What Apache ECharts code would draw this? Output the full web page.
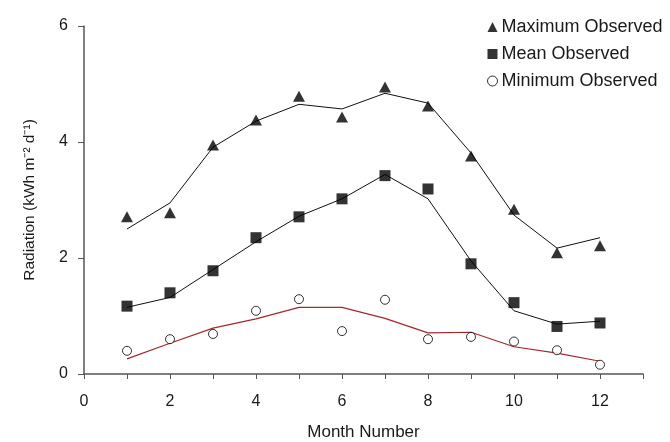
<!DOCTYPE html>
<html><head><meta charset="utf-8">
<script src="https://cdn.jsdelivr.net/npm/echarts@6/dist/echarts.min.js"></script>
<style>html,body{margin:0;padding:0;background:#fff}#c{width:670px;height:442px}</style>
</head><body><div id="c"></div>
<script>
const months = [1,2,3,4,5,6,7,8,9,10,11,12];
const maxObserved = [2.71,2.78,3.95,4.38,4.79,4.43,4.95,4.62,3.76,2.84,2.09,2.21];
const maxModel    = [2.50,2.95,3.91,4.36,4.65,4.57,4.84,4.67,3.81,2.74,2.17,2.35];
const meanObserved= [1.17,1.40,1.78,2.35,2.71,3.02,3.42,3.19,1.90,1.23,0.82,0.88];
const meanModel   = [1.15,1.32,1.80,2.28,2.72,3.02,3.44,3.02,1.95,1.09,0.86,0.91];
const minObserved = [0.40,0.60,0.69,1.09,1.29,0.74,1.28,0.60,0.64,0.56,0.41,0.16];
const minModel    = [0.26,0.53,0.79,0.95,1.15,1.15,0.96,0.71,0.72,0.47,0.36,0.22];
const xTicks = [0,2,4,6,8,10,12];
const yTicks = [0,2,4,6];

const pair = (ys) => months.map((m,i)=>[m, ys[i]]);
const font = 'Liberation Sans, Arial, sans-serif';
const txt = '#1a1a1a';
const chart = echarts.init(document.getElementById('c'));
chart.setOption({
  animation:false,
  backgroundColor:'#fff',
  grid:{left:84,right:27,top:26,bottom:68,containLabel:false,outerBoundsMode:'none'},
  legend:{
    orient:'vertical', left:482, top:13, itemGap:9, itemWidth:10, itemHeight:10,
    textStyle:{fontFamily:font,fontSize:18,color:txt,padding:[0,0,0,-1]},
    data:[
      {name:'Maximum Observed',icon:'triangle'},
      {name:'Mean Observed',icon:'rect'},
      {name:'Minimum Observed',icon:'circle',itemStyle:{color:'#fff',borderColor:'#000',borderWidth:1}}
    ]
  },
  xAxis:{
    type:'value', min:0, max:13, interval:1,
    name:'Month Number', nameLocation:'middle', nameGap:50,
    nameTextStyle:{fontFamily:font,fontSize:17,color:txt},
    axisLine:{onZero:false,lineStyle:{color:'#555',width:1.5}},
    axisTick:{show:true,length:5,inside:false,lineStyle:{color:'#555'}},
    axisLabel:{fontFamily:font,fontSize:16,color:txt,margin:20,
      formatter:(v)=> xTicks.indexOf(v)>=0 ? String(v) : ''},
    splitLine:{show:false}
  },
  yAxis:{
    type:'value', min:0, max:6, interval:2,
    name:'Radiation (kWh m\u207B\u00B2 d\u207B\u00B9)', nameLocation:'middle', nameGap:46,
    nameTextStyle:{fontFamily:font,fontSize:15.5,color:txt},
    axisLine:{show:true,lineStyle:{color:'#555',width:1.5}},
    axisTick:{show:true,length:6,lineStyle:{color:'#555'}},
    axisLabel:{fontFamily:font,fontSize:16,color:txt,margin:16,
      formatter:(v)=> yTicks.indexOf(v)>=0 ? String(v) : ''},
    splitLine:{show:false}
  },
  series:[
    {type:'line',name:'maxModel',data:pair(maxModel),showSymbol:false,symbol:'none',
      lineStyle:{color:'#111',width:1},z:2},
    {type:'line',name:'meanModel',data:pair(meanModel),showSymbol:false,symbol:'none',
      lineStyle:{color:'#111',width:1},z:2},
    {type:'line',name:'minModel',data:pair(minModel),showSymbol:false,symbol:'none',
      lineStyle:{color:'#a3282e',width:1.2},z:2},
    {type:'scatter',name:'Maximum Observed',data:pair(maxObserved),symbol:'triangle',symbolSize:[12,11],
      itemStyle:{color:'#000'},z:3},
    {type:'scatter',name:'Mean Observed',data:pair(meanObserved),symbol:'rect',symbolSize:11,
      itemStyle:{color:'#000'},z:3},
    {type:'scatter',name:'Minimum Observed',data:pair(minObserved),symbol:'circle',symbolSize:9,
      itemStyle:{color:'#fff',borderColor:'#000',borderWidth:1},z:3}
  ]
});
</script></body></html>
